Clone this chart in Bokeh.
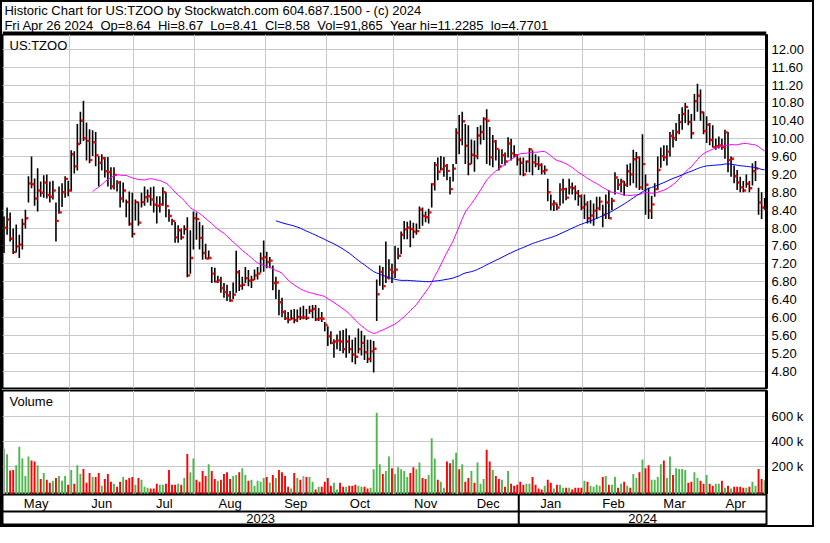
import numpy as np
import pandas as pd
from bokeh.plotting import figure
from bokeh.layouts import column
from bokeh.models import Range1d, FixedTicker, Label, Span, ColumnDataSource, NumeralTickFormatter
from bokeh.core.properties import value
from bokeh.transform import dodge
from bokeh.embed import file_html
from bokeh.resources import INLINE

# ---------------- data ----------------
header_line1 = "Historic Chart for US:TZOO by Stockwatch.com 604.687.1500 - (c) 2024"
header_line2 = "Fri Apr 26 2024  Op=8.64  Hi=8.67  Lo=8.41  Cl=8.58  Vol=91,865  Year hi=11.2285  lo=4.7701"
symbol = "US:TZOO"

first_bar_index = 2  # trading-day index of the first bar (May 1 2023)

close = [
    8.01, 8.19, 7.76, 7.46, 7.59, 7.63, 8.09, 8.22, 9.00, 8.98,
    8.66, 8.84, 8.79, 9.02, 8.74, 8.70, 8.84, 8.16, 8.35, 8.80,
    9.10, 8.84, 9.65, 9.38, 9.88, 10.40, 10.01, 9.95, 9.52, 9.92,
    9.63, 9.46, 9.56, 9.27, 9.25, 8.93, 9.19, 9.02, 8.66, 8.84,
    8.58, 8.09, 7.87, 8.58, 8.12, 8.58, 8.69, 8.71, 8.64, 8.52,
    8.50, 8.53, 8.80, 8.49, 8.27, 8.16, 7.79, 7.95, 7.79, 7.98,
    6.94, 7.33, 8.22, 8.20, 7.78, 7.44, 7.32, 7.33, 6.98, 6.80,
    6.83, 6.66, 6.57, 6.49, 6.38, 6.51, 7.01, 6.71, 6.73, 6.88,
    6.82, 6.84, 6.94, 6.98, 7.32, 7.35, 7.24, 7.27, 6.77, 6.78,
    6.34, 6.12, 5.98, 5.95, 5.98, 5.94, 6.01, 6.00, 6.00, 5.99,
    6.15, 6.19, 5.96, 5.98, 5.97, 5.83, 5.58, 5.43, 5.46, 5.48,
    5.46, 5.29, 5.46, 5.29, 5.17, 5.12, 5.29, 5.43, 5.22, 5.07,
    5.24, 5.30, 6.52, 7.02, 6.70, 6.89, 7.07, 7.01, 7.07, 7.38,
    7.85, 7.97, 8.01, 7.98, 7.92, 7.93, 8.41, 8.27, 8.24, 8.35,
    8.98, 9.41, 9.26, 9.32, 9.39, 9.28, 8.87, 9.33, 10.13, 9.97,
    10.39, 9.84, 9.43, 9.64, 9.61, 10.07, 10.15, 10.44, 10.40, 9.58,
    9.94, 9.77, 9.38, 9.63, 9.49, 9.89, 9.67, 9.63, 9.53, 9.46,
    9.20, 9.49, 9.76, 9.47, 9.43, 9.41, 9.27, 9.30, 8.80, 8.53,
    8.55, 8.46, 8.86, 8.87, 8.68, 8.91, 8.89, 8.79, 8.71, 8.46,
    8.53, 8.22, 8.28, 8.39, 8.44, 8.59, 8.30, 8.57, 8.22, 8.61,
    9.13, 8.97, 9.04, 8.97, 9.27, 9.20, 9.54, 9.58, 8.91, 9.43,
    8.97, 8.39, 8.53, 8.87, 9.30, 9.61, 9.58, 9.71, 10.06, 10.01,
    10.15, 10.37, 10.55, 10.71, 10.37, 10.12, 10.84, 10.96, 10.59, 10.17,
    10.31, 9.97, 9.81, 9.83, 9.85, 9.81, 10.14, 9.52, 9.55, 9.16,
    9.02, 8.91, 8.84, 8.99, 8.89, 9.27, 9.33, 8.57, 8.46, 8.58,
]

high = [
    8.26, 8.46, 8.35, 7.99, 8.08, 7.85, 8.21, 8.41, 9.16, 9.60,
    9.11, 9.34, 9.04, 9.18, 9.20, 9.04, 9.06, 8.57, 8.93, 9.00,
    9.16, 9.06, 9.74, 9.72, 10.33, 10.60, 10.85, 10.36, 10.21, 10.19,
    10.15, 9.61, 9.65, 9.59, 9.59, 9.36, 9.36, 9.07, 9.05, 9.02,
    8.64, 8.82, 8.79, 8.64, 8.59, 8.79, 8.93, 8.86, 8.91, 8.93,
    8.71, 8.71, 8.91, 8.80, 8.42, 8.21, 8.14, 8.06, 7.99, 8.06,
    8.24, 7.95, 8.37, 8.35, 8.14, 8.06, 7.65, 7.50, 7.13, 7.11,
    6.93, 6.91, 6.77, 6.73, 6.59, 6.78, 7.49, 7.06, 6.91, 7.13,
    7.06, 6.93, 7.07, 7.13, 7.45, 7.72, 7.47, 7.35, 7.16, 6.91,
    6.62, 6.44, 6.16, 6.12, 6.17, 6.19, 6.18, 6.23, 6.26, 6.19,
    6.26, 6.28, 6.28, 6.21, 6.12, 5.90, 5.80, 5.69, 5.51, 5.62,
    5.70, 5.72, 5.75, 5.60, 5.50, 5.55, 5.75, 5.70, 5.60, 5.50,
    5.50, 5.47, 6.85, 7.16, 7.13, 7.70, 7.30, 7.20, 7.60, 7.56,
    7.92, 8.16, 8.14, 8.17, 8.12, 8.10, 8.48, 8.46, 8.37, 8.43,
    9.00, 9.48, 9.58, 9.61, 9.59, 9.43, 9.15, 9.43, 10.23, 10.53,
    10.60, 10.33, 10.30, 9.98, 9.96, 10.26, 10.30, 10.48, 10.66, 10.26,
    10.08, 9.97, 9.76, 9.76, 9.69, 10.03, 10.00, 9.85, 9.65, 9.58,
    9.58, 9.51, 9.79, 9.74, 9.65, 9.60, 9.45, 9.40, 9.10, 8.75,
    8.62, 8.55, 9.00, 9.10, 8.90, 9.10, 9.02, 8.95, 8.85, 8.75,
    8.75, 8.60, 8.62, 8.55, 8.70, 8.70, 8.52, 8.75, 8.85, 8.68,
    9.25, 9.10, 9.10, 9.05, 9.42, 9.45, 9.75, 9.70, 9.60, 10.10,
    9.20, 8.90, 8.72, 9.00, 9.60, 9.80, 9.85, 9.85, 10.15, 10.20,
    10.35, 10.55, 10.70, 10.80, 10.65, 10.55, 11.00, 11.23, 11.10, 10.60,
    10.50, 10.35, 10.30, 10.00, 10.05, 10.00, 10.20, 10.15, 9.60, 9.40,
    9.30, 9.15, 9.05, 9.20, 9.05, 9.45, 9.50, 8.90, 8.80, 8.67,
]

low = [
    7.44, 7.85, 7.70, 7.42, 7.45, 7.33, 7.52, 7.99, 8.57, 8.89,
    8.50, 8.37, 8.70, 8.68, 8.66, 8.57, 8.64, 7.70, 8.32, 8.47,
    8.68, 8.71, 8.82, 9.22, 9.29, 9.88, 9.95, 9.51, 9.45, 9.61,
    9.38, 8.93, 9.29, 9.13, 8.93, 8.86, 8.86, 8.82, 8.46, 8.57,
    8.24, 8.05, 7.79, 8.17, 8.05, 8.46, 8.50, 8.57, 8.50, 8.35,
    8.10, 8.35, 8.50, 8.24, 8.14, 8.06, 7.67, 7.67, 7.74, 7.85,
    6.90, 6.98, 7.52, 7.74, 7.52, 7.29, 7.31, 7.30, 6.77, 6.78,
    6.77, 6.55, 6.44, 6.37, 6.35, 6.41, 6.55, 6.59, 6.62, 6.77,
    6.70, 6.66, 6.84, 6.85, 7.00, 7.02, 7.10, 7.10, 6.61, 6.41,
    6.05, 6.01, 5.94, 5.87, 5.94, 5.87, 5.90, 5.94, 5.96, 5.94,
    6.08, 5.98, 5.92, 5.92, 5.90, 5.69, 5.36, 5.40, 5.10, 5.29,
    5.25, 5.20, 5.10, 5.20, 5.00, 4.95, 5.20, 5.15, 5.05, 4.98,
    5.00, 4.77, 5.92, 6.71, 6.62, 6.77, 6.85, 6.77, 6.88, 7.30,
    7.42, 7.75, 7.75, 7.57, 7.77, 7.85, 7.98, 8.05, 8.13, 8.10,
    8.46, 8.84, 9.07, 9.29, 9.15, 9.07, 8.75, 9.04, 9.43, 9.65,
    9.85, 9.43, 9.18, 9.43, 9.26, 9.54, 9.87, 9.97, 9.43, 9.40,
    9.36, 9.51, 9.29, 9.43, 9.40, 9.58, 9.51, 9.58, 9.40, 9.18,
    9.16, 9.25, 9.25, 9.18, 9.36, 9.30, 9.20, 9.20, 8.60, 8.40,
    8.38, 8.40, 8.50, 8.55, 8.62, 8.75, 8.75, 8.62, 8.50, 8.40,
    8.20, 8.10, 8.10, 8.05, 8.20, 8.40, 8.02, 8.20, 8.20, 8.40,
    8.75, 8.85, 8.80, 8.72, 8.92, 8.95, 9.00, 8.90, 8.85, 8.85,
    8.30, 8.20, 8.20, 8.70, 8.85, 9.35, 9.50, 9.40, 9.60, 9.80,
    9.95, 10.10, 10.20, 10.35, 10.30, 10.00, 10.40, 10.60, 10.40, 10.10,
    9.90, 9.85, 9.80, 9.75, 9.78, 9.75, 9.55, 9.25, 9.15, 9.00,
    8.85, 8.80, 8.80, 8.90, 8.80, 8.95, 9.05, 8.30, 8.20, 8.41,
]

volume_k = [
    343, 297, 169, 172, 210, 356, 264, 126, 279, 248,
    241, 210, 102, 149, 95, 72, 87, 110, 126, 87,
    126, 56, 172, 64, 210, 141, 180, 72, 149, 118,
    118, 149, 49, 102, 141, 79, 64, 41, 79, 118,
    95, 110, 118, 56, 110, 95, 41, 33, 26, 26,
    64, 56, 56, 64, 172, 56, 56, 64, 56, 110,
    300, 156, 264, 95, 79, 164, 126, 218, 164, 102,
    87, 95, 141, 156, 102, 126, 133, 156, 187, 133,
    87, 95, 49, 87, 79, 110, 118, 72, 133, 110,
    172, 156, 126, 41, 26, 149, 110, 95, 126, 118,
    118, 79, 18, 41, 41, 79, 110, 49, 72, 18,
    72, 41, 41, 49, 49, 56, 49, 41, 41, 26,
    33, 179, 625, 218, 141, 164, 279, 187, 141, 195,
    179, 164, 118, 149, 195, 179, 233, 110, 102, 133,
    425, 264, 95, 79, 33, 241, 226, 256, 310, 179,
    218, 79, 110, 164, 72, 233, 64, 102, 333, 241,
    172, 126, 102, 95, 41, 164, 64, 49, 56, 79,
    56, 64, 64, 118, 56, 26, 18, 49, 95, 72,
    26, 56, 56, 33, 33, 33, 18, 33, 33, 33,
    87, 79, 49, 41, 56, 49, 118, 126, 56, 56,
    118, 33, 64, 79, 49, 33, 141, 110, 156, 256,
    187, 210, 95, 95, 118, 218, 248, 110, 279, 133,
    187, 180, 180, 172, 72, 79, 156, 110, 87, 64,
    133, 64, 49, 64, 64, 87, 33, 49, 26, 41,
    41, 41, 33, 33, 41, 79, 49, 180, 102, 92,
]

month_names = ["May", "Jun", "Jul", "Aug", "Sep", "Oct", "Nov", "Dec", "Jan", "Feb", "Mar", "Apr"]
month_first_bar = [2, 24, 45, 65, 88, 108, 130, 151, 171, 192, 212, 232]
year_names = ["2023", "2024"]
year_first_month = [0, 8]

price_ticks = [4.80, 5.20, 5.60, 6.00, 6.40, 6.80, 7.20, 7.60, 8.00, 8.40,
               8.80, 9.20, 9.60, 10.00, 10.40, 10.80, 11.20, 11.60, 12.00]
volume_ticks = [200000, 400000, 600000]
volume_tick_labels = ["200 k", "400 k", "600 k"]
ma_short_window = 30
ma_long_window = 90

assert len(close) == len(high) == len(low) == len(volume_k)

# ---------------- styles ----------------
FONT = "Liberation Sans"
GRID = "#C8C8C8"
UP = "#4DB74D"
DOWN = "#FF0000"
FLAT = "#A0A0A0"
W = 810
RIGHT = 46

n = len(close)
idx = list(range(first_bar_index, first_bar_index + n))
df = pd.DataFrame(dict(idx=idx, high=high, low=low, close=close,
                       vol=[v * 1000 for v in volume_k]))
df["ma_s"] = df["close"].rolling(ma_short_window).mean()
df["ma_l"] = df["close"].rolling(ma_long_window).mean()
chg = df["close"].diff()
df["vcolor"] = np.where(chg > 0, UP, np.where(chg < 0, DOWN, FLAT))
src = ColumnDataSource(df)

last_bar = idx[-1]
xr = Range1d(first_bar_index - 0.5, last_bar + 0.6)
month_grid = [m - 0.5 for m in month_first_bar[1:]]
vol_floor = -21000


def style_right_axis(axis):
    axis.axis_line_width = 3
    axis.axis_line_color = "black"
    axis.major_tick_in = 0
    axis.major_tick_out = 0
    axis.minor_tick_in = 0
    axis.minor_tick_out = 0
    axis.major_label_text_font = FONT
    axis.major_label_text_font_size = "13px"
    axis.major_label_text_color = "black"
    axis.major_label_standoff = 5


# ---------------- header ----------------
H_HDR = 32
hdr = figure(width=W, height=H_HDR, x_range=(0, W), y_range=(0, H_HDR),
             toolbar_location=None, output_backend="svg",
             x_axis_location=None, y_axis_location=None,
             min_border=0, min_border_left=0, min_border_right=0,
             min_border_top=0, min_border_bottom=0)
hdr.grid.visible = False
hdr.outline_line_color = None
shown_line2 = header_line2.replace("  ", "\u00a0\u00a0")
hdr.text(x=[2, 2], y=[H_HDR - 8, H_HDR - 23], text=[header_line1, shown_line2],
         text_font=value(FONT), text_font_size="13px", text_color="black",
         text_baseline="middle", text_align="left")
hdr.add_layout(Span(location=1.5, dimension="width", line_color="black", line_width=3))

# ---------------- price panel ----------------
H_PRICE = 355
p = figure(width=W, height=H_PRICE, x_range=xr, y_range=Range1d(4.41, 12.33),
           y_axis_location="right", x_axis_location=None,
           toolbar_location=None, output_backend="svg",
           min_border_left=0, min_border_right=RIGHT, min_border_top=0, min_border_bottom=1)
p.yaxis.ticker = FixedTicker(ticks=price_ticks)
p.yaxis.formatter = NumeralTickFormatter(format="0.00")
style_right_axis(p.yaxis[0])
p.ygrid.grid_line_color = GRID
p.xgrid.ticker = FixedTicker(ticks=month_grid)
p.xgrid.grid_line_color = GRID
p.outline_line_color = "black"
p.outline_line_width = 2

p.segment(x0="idx", y0="low", x1="idx", y1="high", source=src,
          line_color="black", line_width=1.6)
p.scatter(x=dodge("idx", 0.55, range=xr), y="close", source=src, marker="square",
          size=2.4, fill_color="#FF0000", line_color=None)
p.line("idx", "ma_s", source=src, line_color="#FF00FF", line_width=1)
p.line("idx", "ma_l", source=src, line_color="#0000FF", line_width=1)
p.add_layout(Label(x=7, y=H_PRICE - 1 - 11, x_units="screen", y_units="screen",
                   text=symbol, text_font=FONT, text_font_size="13px",
                   text_color="black", text_baseline="middle"))

# ---------------- volume panel ----------------
H_VOL = 105
v = figure(width=W, height=H_VOL, x_range=xr, y_range=Range1d(vol_floor, 802000),
           y_axis_location="right", x_axis_location=None,
           toolbar_location=None, output_backend="svg",
           min_border_left=0, min_border_right=RIGHT, min_border_top=1, min_border_bottom=0)
v.yaxis.ticker = FixedTicker(ticks=volume_ticks)
v.yaxis.major_label_overrides = {t: l for t, l in zip(volume_ticks, volume_tick_labels)}
style_right_axis(v.yaxis[0])
v.ygrid.grid_line_color = GRID
v.xgrid.ticker = FixedTicker(ticks=month_grid)
v.xgrid.grid_line_color = GRID
v.outline_line_color = "black"
v.outline_line_width = 2
v.vbar(x="idx", top="vol", bottom=vol_floor, width=0.62, source=src,
       fill_color="vcolor", line_color=None)
v.add_layout(Label(x=7, y=H_VOL - 1 - 11, x_units="screen", y_units="screen",
                   text="Volume", text_font=FONT, text_font_size="13px",
                   text_color="black", text_baseline="middle"))

# ---------------- month / year rows ----------------
H_AX = 31
YEAR_ROW = 14
bounds = month_first_bar + [last_bar + 1]
month_mid = [(bounds[k] + bounds[k + 1]) / 2 - 0.5 for k in range(len(month_names))]
year_edges = [xr.start] + [month_first_bar[m] - 0.5 for m in year_first_month[1:]] + [xr.end]
year_mid = [(year_edges[k] + year_edges[k + 1]) / 2 for k in range(len(year_names))]

ax = figure(width=W, height=H_AX, x_range=xr, y_range=Range1d(0, H_AX),
            x_axis_location=None, y_axis_location=None,
            toolbar_location=None, output_backend="svg",
            min_border_left=0, min_border_right=RIGHT, min_border_top=0, min_border_bottom=0)
ax.grid.visible = False
ax.outline_line_color = "black"
ax.outline_line_width = 2
ax.text(x=month_mid, y=[(YEAR_ROW + H_AX) / 2] * len(month_mid), text=month_names,
        text_font=value(FONT), text_font_size="13px", text_color="black",
        text_align="center", text_baseline="middle")
ax.text(x=year_mid, y=[YEAR_ROW / 2] * len(year_mid), text=year_names,
        text_font=value(FONT), text_font_size="13px", text_color="black",
        text_align="center", text_baseline="middle")
ax.add_layout(Span(location=YEAR_ROW, dimension="width", line_color="black", line_width=2))
for m in year_first_month[1:]:
    ax.add_layout(Span(location=month_first_bar[m] - 0.5, dimension="height",
                       line_color="black", line_width=2))

layout = column(hdr, p, v, ax, spacing=0, styles={"border": "2px solid black"})

open("out.html", "w").write(file_html(layout, INLINE))
